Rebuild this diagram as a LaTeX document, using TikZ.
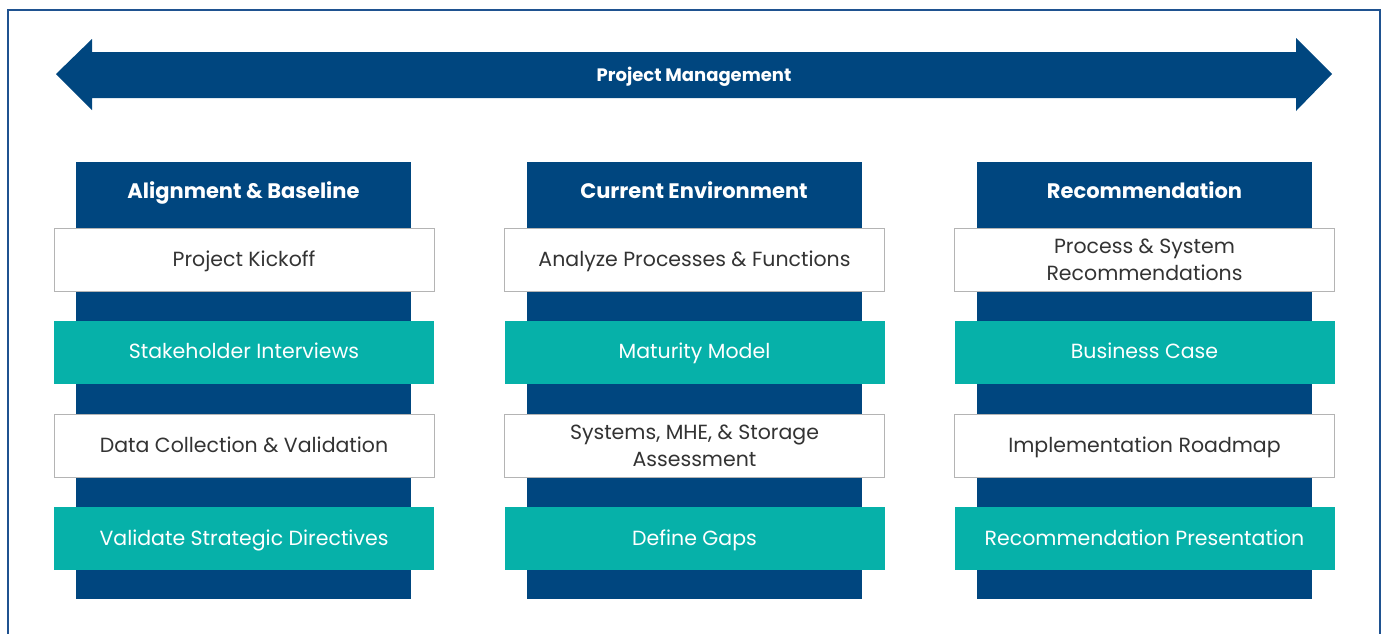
\documentclass[tikz,border=0pt]{standalone}
\usepackage{fontspec}
\setmainfont{Poppins}
\definecolor{navy}{HTML}{00467F}
\definecolor{teal2}{HTML}{06B1A9}
\definecolor{frameblue}{HTML}{1F5290}
\definecolor{boxgrey}{HTML}{B4B4B4}
\definecolor{txt}{HTML}{333333}
\begin{document}
\begin{tikzpicture}[x=1pt,y=-1pt,
  hdr/.style={text=white,font=\fontsize{21}{24}\selectfont\bfseries,anchor=center,text height=17pt,text depth=2pt},
  boxbase/.style={minimum width=380pt,minimum height=63pt,inner sep=0pt,align=center,font=\fontsize{20.5}{27}\selectfont},
  one/.style={text height=16.5pt,text depth=3pt},
  whitebox/.style={boxbase,draw=boxgrey,line width=1pt,fill=white,text=txt},
  tealbox/.style={boxbase,fill=teal2,draw=none,text=white}]
\useasboundingbox (0,0) rectangle (1385,633);
\begin{scope}
\clip (0,0) rectangle (1385,633);
\draw[frameblue,line width=2pt] (8,10) rectangle (1380,650);
\end{scope}
% arrow
\fill[navy] (56,74) -- (92,39) -- (92,52) -- (1296,52) -- (1296,38) -- (1332,74) -- (1296,111) -- (1296,98) -- (92,98) -- (92,110) -- cycle;
\node[text=white,font=\fontsize{18}{20}\selectfont\bfseries,text height=15pt,text depth=3pt] (pm) at (694,75) {Project Management};
% columns
\foreach \cx in {243.5,694,1144.5}{
  \fill[navy] (\cx-167.5,162) rectangle (\cx+167.5,599);
}
\node[hdr] (h1) at (243.5,191) {Alignment \& Baseline};
\node[hdr] (h2) at (694,191) {Current Environment};
\node[hdr] (h3) at (1144.5,191) {Recommendation};
% column 1
\node[whitebox,one] (a1) at (244,259.5) {Project Kickoff};
\node[tealbox,one] (a2) at (244,352) {Stakeholder Interviews};
\node[whitebox,one] (a3) at (244,445.5) {Data Collection \& Validation};
\node[tealbox,one] (a4) at (244,538.5) {Validate Strategic Directives};
% column 2
\node[whitebox,one] (b1) at (694.5,259.5) {Analyze Processes \& Functions};
\node[tealbox,one] (b2) at (694.5,352) {Maturity Model};
\node[whitebox] (b3) at (694.5,445.5) {Systems, MHE, \& Storage\\Assessment};
\node[tealbox,one] (b4) at (694.5,538.5) {Define Gaps};
% column 3
\node[whitebox] (c1) at (1144.5,259.5) {Process \& System\\Recommendations};
\node[tealbox,one] (c2) at (1144.5,352) {Business Case};
\node[whitebox,one] (c3) at (1144.5,445.5) {Implementation Roadmap};
\node[tealbox,one] (c4) at (1144.5,538.5) {Recommendation Presentation};
\end{tikzpicture}
\end{document}
